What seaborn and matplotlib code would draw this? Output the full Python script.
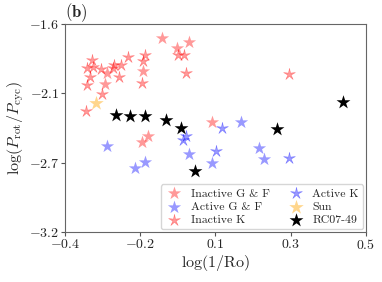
import numpy as np
import pandas as pd
import matplotlib
matplotlib.use("Agg")
import matplotlib.pyplot as plt
from matplotlib.path import Path
import seaborn as sns

# values
inactive_gf_x = [-0.109, -0.064, -0.028, -0.166, -0.275, -0.279, 0.040, -0.171, -0.151]
inactive_gf_y = [-1.705, -1.787, -1.738, -1.962, -1.975, -2.064, -2.354, -2.505, -2.462]

active_gf_x = [-0.275, -0.191, -0.162, -0.028, 0.040, 0.125, 0.180, 0.195]
active_gf_y = [-2.536, -2.705, -2.659, -2.600, -2.672, -2.356, -2.554, -2.641]

inactive_k_x = [-0.063, -0.044, -0.038, -0.161, -0.166, -0.171, -0.210, -0.231, -0.253, -0.255,
                -0.238, -0.290, -0.293, -0.318, -0.335, -0.315, -0.325, -0.333, -0.338, 0.270]
inactive_k_y = [-1.841, -1.841, -1.975, -1.841, -1.882, -2.056, -1.854, -1.918, -1.918, -1.941,
                -2.005, -2.141, -1.946, -1.877, -1.941, -1.928, -2.005, -2.069, -2.269, -1.985]

active_k_x = [-0.046, -0.038, 0.051, 0.070, 0.270]
active_k_y = [-2.492, -2.462, -2.574, -2.397, -2.628]

sun_x = [-0.307]
sun_y = [-2.210]

rc_x = [-0.248, -0.206, -0.160, -0.099, -0.054, -0.011, 0.235, 0.431]
rc_y = [-2.302, -2.308, -2.308, -2.338, -2.402, -2.733, -2.408, -2.202]

xticks = [-0.4, -0.175, 0.05, 0.275, 0.5]
xtick_labels = ['$-0.4$', '$-0.2$', '$0.1$', '$0.3$', '$0.5$']
yticks = [-3.2, -2.6667, -2.1333, -1.6]
ytick_labels = ['$-3.2$', '$-2.7$', '$-2.1$', '$-1.6$']

sns.set_style("ticks")
plt.rcParams['font.family'] = 'serif'
plt.rcParams['font.serif'] = ['cmr10', 'DejaVu Serif']
plt.rcParams['mathtext.fontset'] = 'cm'
plt.rcParams['axes.unicode_minus'] = False

thin_star = Path.unit_regular_star(5, innerCircle=0.28)

fig = plt.figure(figsize=(3.82, 2.82), dpi=100)
ax = fig.add_axes([0.170, 0.177, 0.788, 0.738])

sns.scatterplot(x=inactive_gf_x, y=inactive_gf_y, marker='*', s=100, color='red', alpha=0.4,
                linewidth=0, label='Inactive G & F', ax=ax)
sns.scatterplot(x=active_gf_x, y=active_gf_y, marker='*', s=100, color='blue', alpha=0.4,
                linewidth=0, label='Active G & F', ax=ax)
sns.scatterplot(x=inactive_k_x, y=inactive_k_y, marker=thin_star, s=80, color='red', alpha=0.4,
                edgecolor='red', linewidth=0.4, label='Inactive K', ax=ax)
sns.scatterplot(x=active_k_x, y=active_k_y, marker=thin_star, s=80, color='blue', alpha=0.4,
                edgecolor='blue', linewidth=0.4, label='Active K', ax=ax)
sns.scatterplot(x=sun_x, y=sun_y, marker='*', s=120, color='orange', alpha=0.45,
                linewidth=0, label='Sun', ax=ax)
sns.scatterplot(x=rc_x, y=rc_y, marker='*', s=110, color='black',
                linewidth=0, label='RC07-49', ax=ax)

ax.set_xlim(-0.4, 0.5)
ax.set_ylim(-3.2, -1.6)
ax.set_xticks(xticks)
ax.set_xticklabels(xtick_labels)
ax.set_yticks(yticks)
ax.set_yticklabels(ytick_labels)
ax.tick_params(labelsize=10, length=3, color='#555555', pad=1)
for sp in ax.spines.values():
    sp.set_color('#666666')
    sp.set_visible(True)

ax.set_xlabel(r'$\log(1/{\rm Ro})$', fontsize=11.5, labelpad=1)
ax.set_ylabel(r'$\log(P_{\rm rot}/P_{\rm cyc})$', fontsize=11.5, labelpad=2)
ax.set_title(r'$\mathbf{(b)}$', loc='left', fontsize=12, pad=1)

ax.legend(loc='lower right', ncol=2, fontsize=8.5, frameon=True, fancybox=True,
          borderpad=0.35, handletextpad=0.6, columnspacing=1.4, labelspacing=0.25,
          borderaxespad=0.25, handlelength=1.6)

fig.savefig('out.png', dpi=100)
